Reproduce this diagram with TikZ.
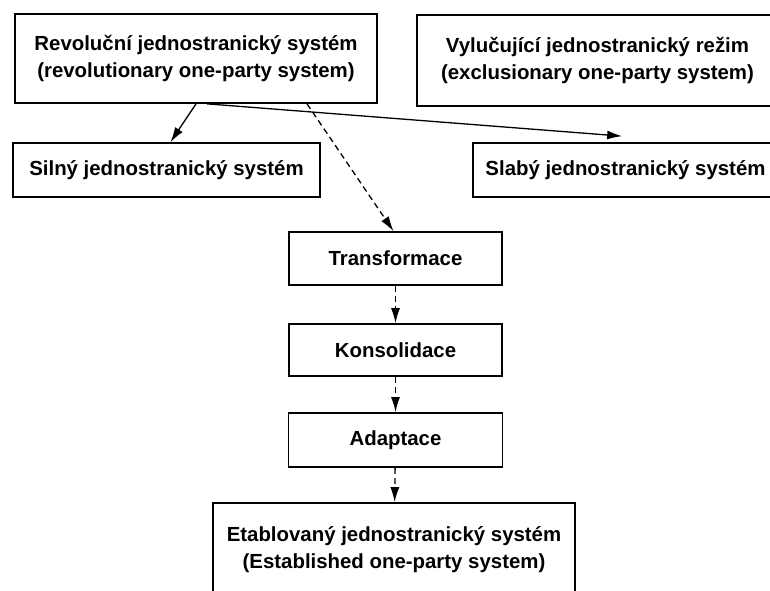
\documentclass[tikz,border=0pt]{standalone}
\usepackage{fontspec}
\setmainfont{Liberation Sans}
\usetikzlibrary{arrows.meta}
\begin{document}
\begin{tikzpicture}[x=1pt, y=-1pt,
    box/.style={draw, line width=1.7pt, inner sep=0pt, align=center,
        font=\bfseries\fontsize{20.4}{27}\selectfont},
    link/.style={line width=1.3pt, -{Latex[length=15pt, width=9pt]}},
    dashlink/.style={link, dash pattern=on 6pt off 4pt}]
    \useasboundingbox (0, 0) rectangle (770, 590);
    \clip (0, 0) rectangle (770, 590);

    \node (rev) at (196, 58.5) [box, minimum width=362, minimum height=89]
        {Revoluční jednostranický systém\\(revolutionary one-party system)};
    \node (vyl) at (597.5, 60.5) [box, minimum width=361, minimum height=91]
        {Vylučující jednostranický režim\\(exclusionary one-party system)};
    \node (silny) at (166.5, 170) [box, minimum width=307, minimum height=54]
        {Silný jednostranický systém};
    \node (slaby) at (625.5, 170) [box, minimum width=305, minimum height=54]
        {Slabý jednostranický systém};
    \node (trans) at (395.5, 258.5) [box, minimum width=213, minimum height=53] {Transformace};
    \node (kons) at (395.5, 350) [box, minimum width=213, minimum height=52] {Konsolidace};
    \node (adapt) at (395.5, 440) [box, minimum width=214, minimum height=54] {Adaptace};
    \node (etab) at (394, 549.5) [box, minimum width=362, minimum height=93]
        {Etablovaný jednostranický systém\\(Established one-party system)};

    \draw[link] (rev.south) -- ([xshift=4pt]silny.north);
    \draw[link] ([xshift=11pt]rev.south) -- ([xshift=150pt, yshift=6pt]slaby.north west);
    \draw[dashlink] ([xshift=111pt]rev.south) -- ([xshift=-2pt]trans.north);
    \draw[dashlink] (trans) -- (kons);
    \draw[dashlink] (kons) -- (adapt);
    \draw[dashlink] (adapt) -- (etab);
\end{tikzpicture}
\end{document}
